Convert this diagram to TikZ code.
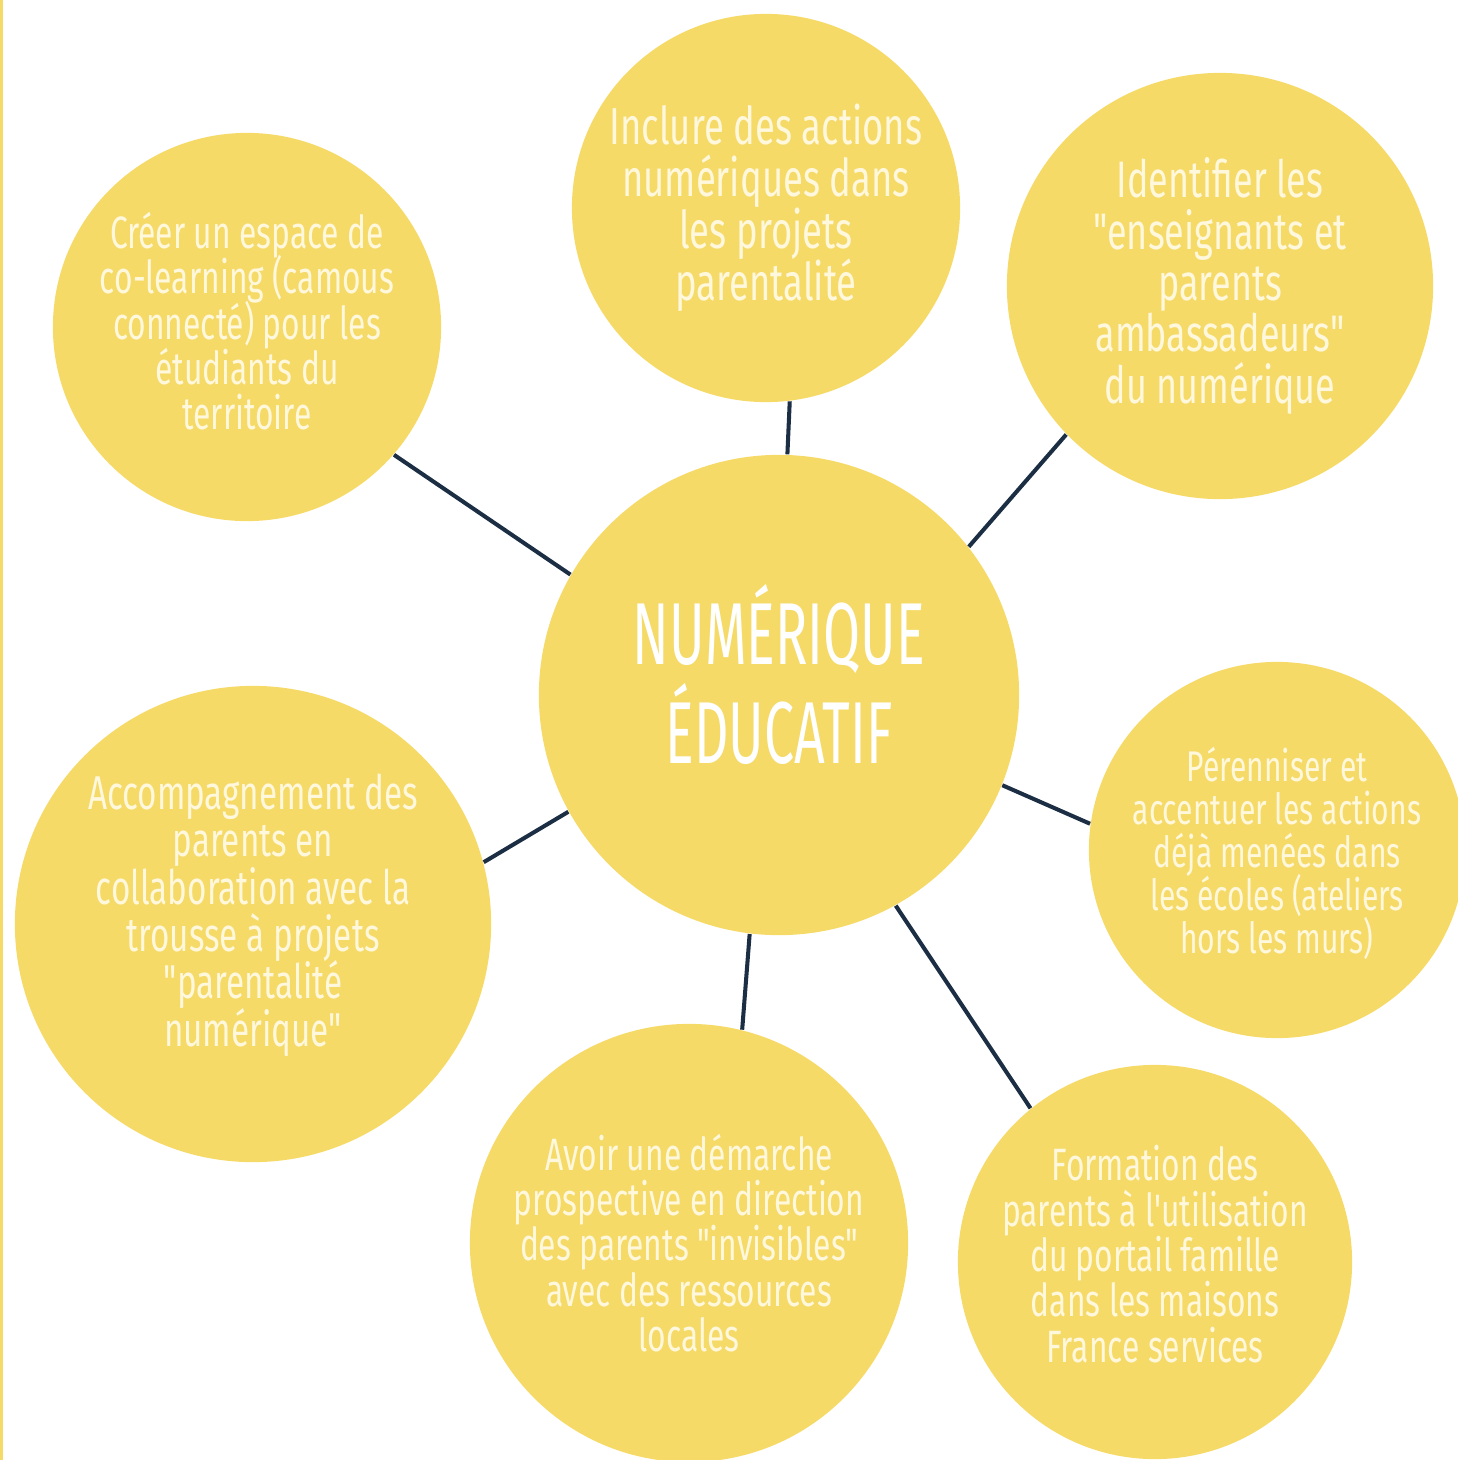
\documentclass[tikz,border=0pt]{standalone}
\usepackage{fontspec}
\newfontfamily\condfont[FakeStretch=0.7]{Fira Sans}
\newfontfamily\titlefont[FakeStretch=0.61]{Fira Sans}
\newcommand\tightskip{\lineskiplimit=-20pt\relax}
\definecolor{bubblefill}{HTML}{F5DA68}
\definecolor{bubbletext}{HTML}{FFF8DC}
\definecolor{linkcolor}{HTML}{1C2E44}

\begin{document}
\begin{tikzpicture}[
                    x=0.01cm, y=-0.01cm,
                    bubble/.style={circle, fill=bubblefill, text=bubbletext,
                                   align=center, inner sep=0pt, minimum size=#1},
                    bsize/.style={font={\condfont\fontsize{#1}{#1}\selectfont\tightskip}},
                    link/.style={draw=linkcolor, line width=1.15pt}
                  ]
                  \useasboundingbox (0,0) rectangle (1458,1460);
                  \clip (0,0) rectangle (1458,1460);
                  \fill[bubblefill] (0,0) rectangle (3,1460);
                  \node[bubble=4.8cm, text=white, text depth=12pt,
                        font={\titlefont\fontsize{25}{27.9}\selectfont\tightskip}]
                        (centre) at (779,695) {NUMÉRIQUE\\ÉDUCATIF};
                  \node[bubble=3.88cm, bsize=14.8] (inclure) at (766,208)
                        {Inclure des actions\\numériques dans\\les projets\\parentalité};
                  \node[bubble=4.26cm, bsize=14.6] (identifier) at (1220,286)
                        {Identifier les\\"enseignants et\\parents\\ambassadeurs"\\du numérique};
                  \node[bubble=3.88cm, bsize=12.9, text depth=3.4pt] (creer) at (247,327)
                        {Créer un espace de\\co-learning (camous\\connecté) pour les\\étudiants du\\territoire};
                  \node[bubble=3.76cm, bsize=12.2, text depth=0pt] (perenniser) at (1277,850)
                        {Pérenniser et\\accentuer les actions\\déjà menées dans\\les écoles (ateliers\\hors les murs)};
                  \node[bubble=3.94cm, bsize=12.9, text depth=4.6pt] (formation) at (1155,1262)
                        {Formation des\\parents à l'utilisation\\du portail famille\\dans les maisons\\France services};
                  \node[bubble=4.38cm, bsize=12.9] (avoir) at (689,1243)
                        {Avoir une démarche\\prospective en direction\\des parents "invisibles"\\avec des ressources\\locales};
                  \node[bubble=4.76cm, bsize=13.5, text depth=8pt] (accompagnement) at (253,924)
                        {Accompagnement des\\parents en\\collaboration avec la\\trousse à projets\\"parentalité\\numérique"};
                  \foreach \n/\a/\b in {inclure/88.8/-83.8, identifier/38.6/-136.7,
                                        creer/150.6/-41.7, perenniser/-22.5/172.4,
                                        formation/-61.5/129.2, avoir/-97.7/76.3,
                                        accompagnement/-151.4/15.1}
                    \draw[link] (centre.\a) -- (\n.\b);
                \end{tikzpicture}
\end{document}
